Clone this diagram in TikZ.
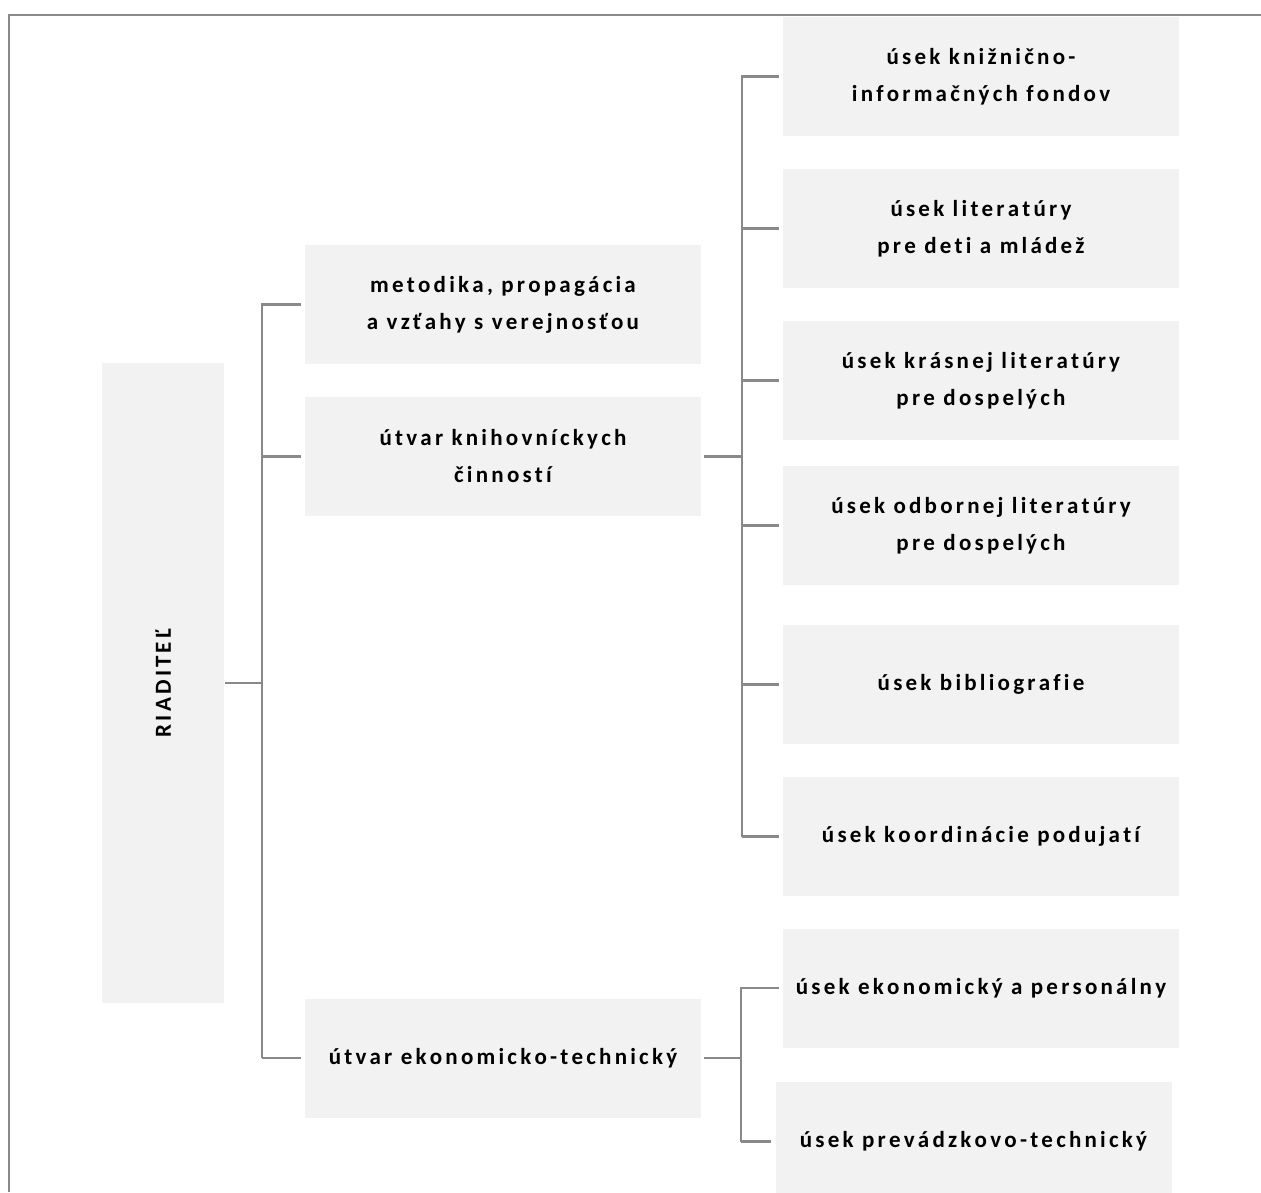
\documentclass[tikz,border=0pt]{standalone}
\usepackage{fontspec}
\newfontfamily\orgfont{Carlito}[LetterSpace=14,Ligatures={NoCommon},Kerning=Off]
\definecolor{boxgray}{HTML}{F2F2F2}
\definecolor{linegray}{HTML}{898989}
\begin{document}
\begin{tikzpicture}[x=1pt,y=-1pt,line width=2.5pt,
    box/.style={fill=boxgray,minimum width=396pt,minimum height=119pt,inner sep=0pt,
      align=center,text=black,font=\orgfont\bfseries\fontsize{23pt}{37pt}\selectfont},
    link/.style={draw=linegray,line width=2.5pt}]
  \pgfmathsetmacro{\xa}{262}
  \pgfmathsetmacro{\xb}{742}
  \pgfmathsetmacro{\xc}{741}

  \useasboundingbox (0,0) rectangle (1261,1192);
  \clip (0,0) rectangle (1261,1192);
  \draw[linegray,line width=2.2pt] (9,1192) -- (9,15) -- (1261,15);

  \node[box,rotate=90,minimum width=640pt,minimum height=122pt] (R) at (163,683) {RIADITEĽ};

  \node[box] (M0) at (503,304.5) {metodika, propagácia\\a vzťahy s verejnosťou};
  \node[box] (M1) at (503,456.5) {útvar knihovníckych\\činností};
  \node[box] (M2) at (503,1058) {útvar ekonomicko-technický};

  \node[box] (U0) at (981,76.5) {úsek knižnično-\\informačných fondov};
  \node[box] (U1) at (981,228.5) {úsek literatúry\\pre deti a mládež};
  \node[box] (U2) at (981,380.5) {úsek krásnej literatúry\\pre dospelých};
  \node[box] (U3) at (981,525.5) {úsek odbornej literatúry\\pre dospelých};
  \node[box] (U4) at (981,684.5) {úsek bibliografie};
  \node[box] (U5) at (981,836.5) {úsek koordinácie podujatí};
  \node[box] (U6) at (981,988) {úsek ekonomický a personálny};
  \node[box] (U7) at (973.5,1141.5) {úsek prevádzkovo-technický};

  \coordinate (A) at (\xa,0);
  \coordinate (B) at (\xb,0);
  \coordinate (C) at (\xc,0);

  \draw[link] (R.south) -- (R.south -| A);
  \draw[link,shorten >=3pt] (M2.west -| A) -- (M0.west -| A) -- (M0.west);
  \draw[link,shorten >=3pt] (M1.west -| A) -- (M1.west);
  \draw[link,shorten >=3pt] (M2.west -| A) -- (M2.west);

  \draw[link,shorten <=2pt] (M1.east) -- (M1.east -| B);
  \draw[link,shorten >=3pt] (U5.west -| B) -- (U0.west -| B) -- (U0.west);
  \draw[link,shorten >=3pt] (U1.west -| B) -- (U1.west);
  \draw[link,shorten >=3pt] (U2.west -| B) -- (U2.west);
  \draw[link,shorten >=3pt] (U3.west -| B) -- (U3.west);
  \draw[link,shorten >=3pt] (U4.west -| B) -- (U4.west);
  \draw[link,shorten >=3pt] (U5.west -| B) -- (U5.west);

  \draw[link,shorten <=2pt] (M2.east) -- (M2.east -| C);
  \draw[link,shorten >=3pt] (U7.west -| C) -- (U6.west -| C) -- (U6.west);
  \draw[link,shorten >=3pt] (U7.west -| C) -- (U7.west);
\end{tikzpicture}
\end{document}
